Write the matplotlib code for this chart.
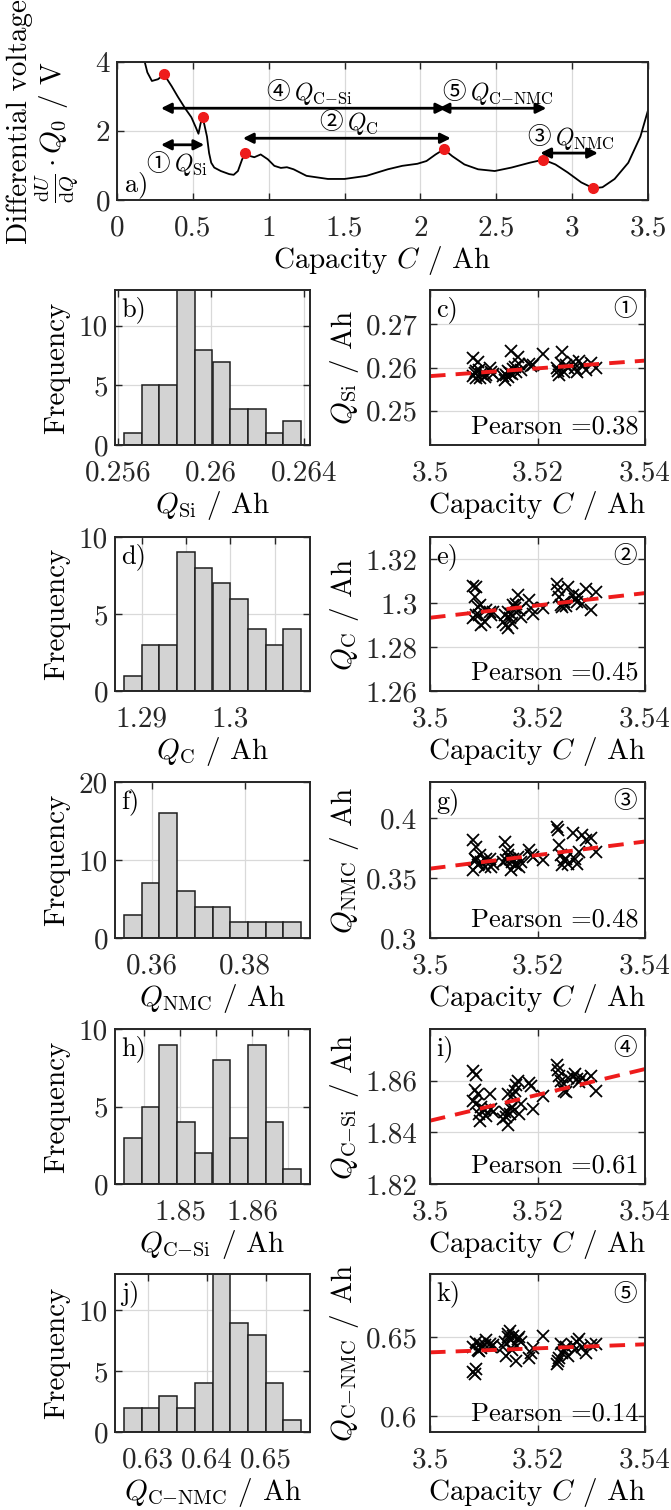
import matplotlib
matplotlib.use('Agg')
import matplotlib.pyplot as plt
import numpy as np
from matplotlib.ticker import FuncFormatter

plt.rcParams['font.family'] = ['cmr10', 'Noto Sans CJK JP']
plt.rcParams['mathtext.fontset'] = 'cm'
plt.rcParams['axes.formatter.use_mathtext'] = True
plt.rcParams['font.size'] = 21

# ---------------- data: differential voltage curve ----------------
curve_c = [0.16, 0.20, 0.23, 0.27, 0.31, 0.36, 0.40, 0.45, 0.49, 0.52, 0.537, 0.55, 0.562,
           0.575, 0.593, 0.607, 0.621, 0.641, 0.684, 0.74, 0.769, 0.797, 0.825, 0.845,
           0.88, 0.905, 0.947, 0.994, 1.037, 1.08, 1.12, 1.164, 1.249, 1.39, 1.50, 1.644,
           1.785, 1.88, 1.98, 2.04, 2.10, 2.155, 2.21, 2.29, 2.38, 2.49, 2.60, 2.72, 2.81,
           2.89, 2.97, 3.06, 3.14, 3.20, 3.28, 3.37, 3.45, 3.50]
curve_v = [4.4, 3.7, 3.45, 3.5, 3.64, 3.3, 3.0, 2.65, 2.4, 2.1, 1.92, 2.2, 2.4,
           2.2, 1.84, 1.36, 1.08, 0.94, 0.84, 0.75, 0.73, 0.84, 1.18, 1.34,
           1.27, 1.24, 1.32, 1.18, 0.99, 0.93, 0.95, 0.89, 0.70, 0.61, 0.61, 0.70,
           0.89, 0.99, 1.05, 1.13, 1.32, 1.47, 1.27, 1.03, 0.89, 0.84, 0.94, 1.08, 1.17,
           1.03, 0.80, 0.51, 0.34, 0.37, 0.61, 1.08, 1.84, 2.6]
peak_c = [0.31, 0.565, 0.845, 2.155, 2.81, 3.14]
peak_v = [3.64, 2.4, 1.35, 1.47, 1.17, 0.34]

arrow_x0 = [0.29, 0.83, 2.79, 0.29, 2.12]
arrow_x1 = [0.575, 2.20, 3.17, 2.17, 2.83]
arrow_y = [1.6, 1.79, 1.36, 2.66, 2.66]
circ = ['①', '②', '③', '④', '⑤']
q_lbl = ['$Q_{\\mathrm{Si}}$', '$Q_{\\mathrm{C}}$', '$Q_{\\mathrm{NMC}}$',
         '$Q_{\\mathrm{C{-}Si}}$', '$Q_{\\mathrm{C{-}NMC}}$']
lbl_x = [0.35, 1.49, 2.86, 1.14, 2.30]
lbl_y = [1.03, 2.22, 1.79, 3.09, 3.09]

# ---------------- data: capacity of each cell ----------------
cap = [3.5080, 3.5086, 3.5083, 3.5089, 3.5111, 3.5080, 3.5086, 3.5095, 3.5102, 3.5091,
       3.5105, 3.5114, 3.5093, 3.5117,
       3.5136, 3.5140, 3.5145, 3.5148, 3.5150, 3.5153, 3.5155, 3.5158, 3.5160, 3.5163,
       3.5166, 3.5142, 3.5170, 3.5146,
       3.5185, 3.5188, 3.5192, 3.5210,
       3.5236, 3.5238, 3.5240, 3.5243, 3.5246, 3.5250, 3.5253, 3.5256,
       3.5266, 3.5270, 3.5274, 3.5278, 3.5282, 3.5290, 3.5300, 3.5308]

q_si = [0.2622, 0.2575, 0.2588, 0.2612, 0.2598, 0.2580, 0.2592, 0.2585, 0.2578, 0.2595,
        0.2583, 0.2590, 0.2576, 0.2586,
        0.2580, 0.2570, 0.2592, 0.2588, 0.2638, 0.2585, 0.2597, 0.2602, 0.2590, 0.2625,
        0.2608, 0.2583, 0.2595, 0.2578,
        0.2609, 0.2603, 0.2606, 0.2631,
        0.2600, 0.2592, 0.2583, 0.2610, 0.2635, 0.2590, 0.2605, 0.2598,
        0.2612, 0.2600, 0.2590, 0.2615, 0.2605, 0.2595, 0.2610, 0.2600]
q_c = [1.3075, 1.3072, 1.3027, 1.2982, 1.2957, 1.2930, 1.2945, 1.2900, 1.2915, 1.2945,
       1.2967, 1.2945, 1.2990, 1.2960,
       1.2915, 1.2945, 1.2888, 1.2930, 1.2952, 1.2907, 1.2990, 1.2975, 1.2997, 1.3035,
       1.2967, 1.2900, 1.2937, 1.2960,
       1.3012, 1.2975, 1.2952, 1.2975,
       1.3087, 1.3057, 1.3027, 1.2990, 1.2982, 1.3005, 1.2985, 1.3072,
       1.3035, 1.3020, 1.3005, 1.3030, 1.2997, 1.3065, 1.2967, 1.3050]
q_nmc = [0.3817, 0.3760, 0.3662, 0.3606, 0.3662, 0.3564, 0.3648, 0.3634, 0.3592, 0.3620,
         0.3662, 0.3592, 0.3690, 0.3620,
         0.3634, 0.3803, 0.3732, 0.3662, 0.3564, 0.3634, 0.3662, 0.3620, 0.3606, 0.3676,
         0.3592, 0.3648, 0.3634, 0.3690,
         0.3732, 0.3690, 0.3676, 0.3648,
         0.3929, 0.3900, 0.3775, 0.3690, 0.3606, 0.3648, 0.3662, 0.3620,
         0.3873, 0.3662, 0.3620, 0.3718, 0.3859, 0.3817, 0.3831, 0.3718]
q_csi = [1.8638, 1.8622, 1.8563, 1.8550, 1.8550, 1.8520, 1.8510, 1.8500, 1.8487, 1.8470,
         1.8463, 1.8490, 1.8445, 1.8480,
         1.8450, 1.8480, 1.8430, 1.8470, 1.8490, 1.8500, 1.8545, 1.8560, 1.8585, 1.8600,
         1.8470, 1.8460, 1.8510, 1.8550,
         1.8590, 1.8580, 1.8490, 1.8540,
         1.8660, 1.8640, 1.8620, 1.8600, 1.8580, 1.8560, 1.8555, 1.8610,
         1.8615, 1.8625, 1.8605, 1.8595, 1.8610, 1.8600, 1.8620, 1.8560]
q_cnmc = [0.6280, 0.6300, 0.6270, 0.6420, 0.6460, 0.6440, 0.6470, 0.6430, 0.6450, 0.6410,
          0.6480, 0.6440, 0.6460, 0.6450,
          0.6440, 0.6470, 0.6500, 0.6540, 0.6480, 0.6420, 0.6510, 0.6460, 0.6350, 0.6490,
          0.6500, 0.6380, 0.6470, 0.6520,
          0.6370, 0.6400, 0.6430, 0.6510,
          0.6330, 0.6350, 0.6370, 0.6460, 0.6400, 0.6420, 0.6440, 0.6380,
          0.6450, 0.6420, 0.6470, 0.6490, 0.6440, 0.6400, 0.6450, 0.6460]

# regression line end values at C = 3.50 and 3.54, Pearson coefficients
fit_start = [0.2580, 1.2933, 0.3578, 1.8445, 0.6404]
fit_end = [0.2616, 1.3045, 0.3804, 1.8645, 0.6455]
pearson = ['0.38', '0.45', '0.48', '0.61', '0.14']

# ---------------- data: histograms ----------------
hist_counts = [
    [1, 5, 5, 13, 8, 7, 3, 3, 1, 2],
    [1, 3, 3, 9, 8, 7, 6, 4, 3, 4],
    [3, 7, 16, 6, 4, 4, 2, 2, 2, 2],
    [3, 5, 9, 4, 2, 8, 3, 9, 4, 1],
    [2, 2, 3, 2, 4, 13, 9, 8, 4, 1],
]
hist_edge0 = [0.25624, 1.2880, 0.35407, 1.84219, 0.62599]
hist_width = [0.000762, 0.0020, 0.003786, 0.002465, 0.002994]
hist_ymax = [13, 10, 20, 10, 13]
hist_yticks = [[0, 5, 10], [0, 5, 10], [0, 10, 20], [0, 5, 10], [0, 5, 10]]
hist_xticks = [[0.256, 0.26, 0.264], [1.29, 1.295, 1.3, 1.305],
               [0.36, 0.38], [1.845, 1.85, 1.855, 1.86, 1.865], [0.63, 0.64, 0.65]]
hist_xlabels = [['0.256', '0.26', '0.264'], ['1.29', '', '1.3', ''],
                ['0.36', '0.38'], ['', '1.85', '', '1.86', ''], ['0.63', '0.64', '0.65']]

q_names = ['\\mathrm{Si}', '\\mathrm{C}', '\\mathrm{NMC}', '\\mathrm{C{-}Si}', '\\mathrm{C{-}NMC}']
q_data = [q_si, q_c, q_nmc, q_csi, q_cnmc]
sc_ylim = [(0.242, 0.278), (1.26, 1.33), (0.30, 0.43), (1.82, 1.88), (0.59, 0.69)]
sc_yticks = [[0.25, 0.26, 0.27], [1.26, 1.28, 1.30, 1.32], [0.30, 0.35, 0.40],
             [1.82, 1.84, 1.86], [0.60, 0.65]]
hist_tags = ['b)', 'd)', 'f)', 'h)', 'j)']
sc_tags = ['c)', 'e)', 'g)', 'i)', 'k)']

fmt = FuncFormatter(lambda v, p: '%g' % round(v, 6))
dark = '#262626'


def style(ax, ypad=5):
    ax.tick_params(direction='in', top=True, right=True, length=5, width=1,
                   colors=dark, labelcolor=dark)
    ax.tick_params(axis='x', pad=11)
    ax.tick_params(axis='y', pad=ypad)
    for s in ax.spines.values():
        s.set_linewidth(1.4)
        s.set_color(dark)
    ax.grid(True, color='#d9d9d9', lw=0.9)
    ax.set_axisbelow(True)


W, H = 671, 1510
fig = plt.figure(figsize=(W / 100, H / 100), dpi=100)

# ---------------- a) ----------------
ax = fig.add_axes([117 / W, 1 - 200 / H, 531 / W, 138 / H])
style(ax)
ax.plot(curve_c, curve_v, color='k', lw=1.3)
ax.plot(peak_c, peak_v, 'o', color='#ee1c1c', ms=7, mec='#ee1c1c')
for i in range(len(arrow_x0)):
    ax.annotate('', xy=(arrow_x1[i], arrow_y[i]), xytext=(arrow_x0[i], arrow_y[i]),
                arrowprops=dict(arrowstyle='<|-|>', lw=2, color='k',
                                mutation_scale=15, shrinkA=0, shrinkB=0))
    ax.text(lbl_x[i], lbl_y[i], circ[i], ha='right', va='center', fontsize=17)
    ax.annotate(q_lbl[i], xy=(lbl_x[i], lbl_y[i]), xytext=(3, 0),
                textcoords='offset points', ha='left', va='center', fontsize=17)
ax.text(0.05, 0.45, 'a)', ha='left', va='center', fontsize=19)
ax.set_xlim(0, 3.5)
ax.set_ylim(0, 4)
ax.set_xticks(np.arange(0, 3.51, 0.5))
ax.set_yticks([0, 2, 4])
ax.xaxis.set_major_formatter(fmt)
ax.yaxis.set_major_formatter(fmt)
ax.set_xlabel('Capacity $C$ / Ah', labelpad=2)
fig.text(20 / W, 1 - 122 / H, 'Differential voltage', rotation=90, ha='center', va='center')
fig.text(57 / W, 1 - 132 / H, r'$\frac{\mathrm{d}U}{\mathrm{d}Q}\cdot Q_0$ / V',
         rotation=90, ha='center', va='center')

rows = [(290, 445), (537, 691), (782, 938), (1029, 1184), (1274, 1432)]

for k in range(5):
    top, bot = rows[k]
    # histogram
    ah = fig.add_axes([115 / W, 1 - bot / H, 195 / W, (bot - top) / H])
    style(ah)
    n = len(hist_counts[k])
    e0, w = hist_edge0[k], hist_width[k]
    lefts = [e0 + j * w for j in range(n)]
    ah.bar(lefts, hist_counts[k], width=w, align='edge', color='#d3d3d3',
           edgecolor='#1e1e1e', lw=1.1)
    ah.set_xlim(e0 - w / 2, e0 + (n + 0.5) * w)
    ah.set_ylim(0, hist_ymax[k])
    ah.set_yticks(hist_yticks[k])
    ah.set_xticks(hist_xticks[k])
    ah.set_xticklabels(hist_xlabels[k])
    ah.yaxis.set_major_formatter(fmt)
    ah.set_ylabel('Frequency', labelpad=6)
    ah.set_xlabel('$Q_{%s}$ / Ah' % q_names[k], labelpad=2)
    ah.text(0.03, 0.96, hist_tags[k], transform=ah.transAxes, ha='left', va='top',
            fontsize=19)

    # scatter
    asc = fig.add_axes([430 / W, 1 - bot / H, 215 / W, (bot - top) / H])
    style(asc, ypad=9)
    asc.plot(cap, q_data[k], 'x', color='k', ms=9, mew=1.3)
    asc.plot([3.50, 3.54], [fit_start[k], fit_end[k]], '--', color='#ee1c1c', lw=2.8,
             dashes=(4, 2.6))
    asc.set_xlim(3.5, 3.54)
    asc.set_ylim(*sc_ylim[k])
    asc.set_xticks([3.5, 3.52, 3.54])
    asc.set_yticks(sc_yticks[k])
    asc.xaxis.set_major_formatter(fmt)
    asc.yaxis.set_major_formatter(fmt)
    asc.set_xlabel('Capacity $C$ / Ah', labelpad=2)
    asc.set_ylabel('$Q_{%s}$ / Ah' % q_names[k], labelpad=3)
    asc.text(0.03, 0.96, sc_tags[k], transform=asc.transAxes, ha='left', va='top',
             fontsize=19)
    asc.text(0.96, 0.94, circ[k], transform=asc.transAxes, ha='right', va='top',
             fontsize=17)
    asc.text(0.97, 0.04, 'Pearson =' + pearson[k], transform=asc.transAxes,
             ha='right', va='bottom', fontsize=19)

fig.savefig('out.png', dpi=100)
